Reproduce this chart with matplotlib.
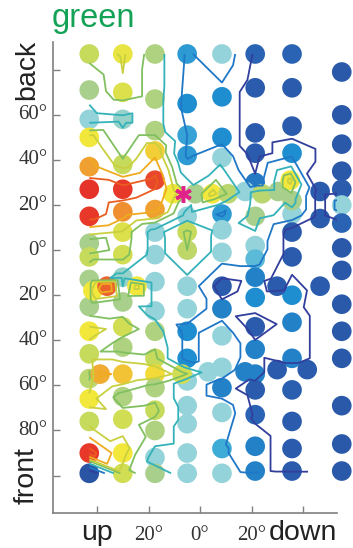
import numpy as np
import matplotlib
matplotlib.use("Agg")
import matplotlib.pyplot as plt
from matplotlib.colors import LinearSegmentedColormap

# dot columns: azimuth (deg), elevations (deg) and response value (0..1)
col_az = [-43, -30, -17.5, -5, 8.5, 21.4, 35.7, 46.6, 55]
col_el = [
    [87, 71, 58, 50, 37, 27, 15, 3, -3, -13, -25, -36, -46, -57, -66, -76, -90, -99],
    [87, 70, 58, 38, 27, 17, 8, -2, -12, -23, -34, -43, -55, -65, -75, -90, -99],
    [87, 67, 53, 44, 31, 18, 8, -2, -14, -27, -36, -48, -55, -61, -71, -80, -92, -99],
    [87, 65, 51, 42, 15, 8, 0, -16, -26, -36, -48, -58, -69, -77, -90, -99],
    [87, 68, 50, 41, 16, 9, -1, -16, -26, -38, -52, -61, -72, -88, -99],
    [87, 72, 52, 43, 30, 15, 2, -4, -12, -21, -34, -44, -55, -62, -73, -87, -98],
    [87, 72, 55, 43, 16, 8, -3, -20, -32, -48, -62, -76, -88, -98],
    [26, 14, -16],
    [79, 60, 47, 35, 27, 20, 12, 1, -9, -24, -36, -48, -69, -86, -98],
]
col_val = [
    [0.58, 0.5, 0.4, 0.66, 0.78, 0.92, 0.9, 0.5, 0.58, 0.5, 0.5, 0.66, 0.58, 0.55, 0.66, 0.58, 0.9, 0.04],
    [0.64, 0.62, 0.42, 0.58, 0.9, 0.8, 0.62, 0.6, 0.42, 0.5, 0.6, 0.52, 0.72, 0.52, 0.6, 0.66, 0.6],
    [0.52, 0.52, 0.52, 0.7, 0.88, 0.78, 0.4, 0.4, 0.4, 0.4, 0.52, 0.58, 0.68, 0.52, 0.58, 0.52, 0.4, 0.5],
    [0.28, 0.25, 0.3, 0.28, 0.4, 0.58, 0.56, 0.4, 0.4, 0.25, 0.25, 0.4, 0.4, 0.4, 0.4, 0.4],
    [0.4, 0.25, 0.25, 0.4, 0.28, 0.4, 0.4, 0.1, 0.22, 0.4, 0.4, 0.22, 0.4, 0.32, 0.4],
    [0.15, 0.1, 0.1, 0.1, 0.2, 0.5, 0.4, 0.35, 0.22, 0.25, 0.1, 0.22, 0.22, 0.1, 0.15, 0.22, 0.22],
    [0.15, 0.1, 0.1, 0.25, 0.4, 0.1, 0.1, 0.25, 0.22, 0.22, 0.12, 0.1, 0.1, 0.1],
    [0.1, 0.1, 0.1],
    [0.08, 0.08, 0.08, 0.08, 0.1, 0.4, 0.15, 0.08, 0.08, 0.08, 0.08, 0.08, 0.08, 0.08, 0.08],
]

# extra stimulus positions (dense row at ~25 deg and off-grid dots)
extra_az = [-10.5, -1.9, 4.7, 10.9, 17.5, 24.1, 30.3, 35, 35.7,
            -41.6, -36.1, -24.5, -38.8, -7, 3.1, 17.5, 29.9, 29.9, 41.6]
extra_el = [25, 25, 25, 25, 26, 25, 26, 31, 22,
            -18, -16, -16, -55, -55, -54, -54, -16, -53, -53]
extra_val = [0.66, 0.5, 0.66, 0.55, 0.4, 0.55, 0.5, 0.66, 0.5,
             0.66, 0.85, 0.66, 0.76, 0.6, 0.4, 0.22, 0.1, 0.1, 0.1]

best_az, best_el = -6.6, 24.8

xticks = [-40, -20, 0, 20, 40]
xlabels = ['up', '20°', '0°', '20°', 'down']
yticks = [80, 60, 40, 20, 0, -20, -40, -60, -80, -100]
ylabels = ['back', '60°', '40°', '20°', '0°', '20°', '40°', '60°', '80°', 'front']
levels = [0.17, 0.3, 0.45, 0.56, 0.63, 0.74, 0.85]

az, el, val = [], [], []
for a, els, vs in zip(col_az, col_el, col_val):
    az += [a] * len(els)
    el += els
    val += vs
az = np.array(az + extra_az, float)
el = np.array(el + extra_el, float)
val = np.array(val + extra_val, float)

dot_cmap = LinearSegmentedColormap.from_list('dots', [
    (0.0, '#2a4f9e'), (0.15, '#2a62b4'), (0.25, '#1f8ed0'), (0.33, '#45b0d8'),
    (0.4, '#93d3d9'), (0.5, '#a7cf8d'), (0.58, '#c6da5c'), (0.66, '#f3e73a'),
    (0.78, '#f0a030'), (0.9, '#e8382a'), (1.0, '#d82028')])
line_cmap = LinearSegmentedColormap.from_list('lines', [
    (0.0, '#2b2f8f'), (0.2, '#33419f'), (0.3, '#1f78c8'), (0.4, '#20a8c8'),
    (0.48, '#40b8b0'), (0.56, '#80c060'), (0.63, '#c8d040'), (0.72, '#f0c020'),
    (0.8, '#ee7020'), (1.0, '#e02020')])

fig = plt.figure(figsize=(3.53, 5.48), dpi=100)
ax = fig.add_axes([0.150, 0.0639, 0.805, 0.859])

ax.scatter(az, el, c=val, cmap=dot_cmap, vmin=0, vmax=1, s=200,
           linewidths=0, zorder=1, clip_on=False)
ax.tricontour(az, el, val, levels=levels, cmap=line_cmap, vmin=0, vmax=1,
              linewidths=1.3, zorder=2)
ax.plot(best_az, best_el, marker=(6, 2, 0), color='#e0228a', markersize=12,
        markeredgewidth=2.5, zorder=3, linestyle='none')

ax.set_xlim(-57.1, 53.2)
ax.set_ylim(-116.6, 92.2)
for s in ['top', 'right']:
    ax.spines[s].set_visible(False)
for s in ['left', 'bottom']:
    ax.spines[s].set_color('#808080')
    ax.spines[s].set_linewidth(1.2)
ax.set_xticks(xticks, labels=[''] * len(xticks))
ax.set_yticks(yticks, labels=[''] * len(yticks))
ax.tick_params(direction='in', length=5, width=1, color='#808080')

sans = 'Liberation Sans'
serif = 'Liberation Serif'
xt = ax.get_xaxis_transform()
for x, lab in zip(xticks, xlabels):
    if '°' in lab:
        ax.text(x, -0.057, lab, transform=xt, ha='center', va='baseline',
                family=serif, fontsize=15, color='#333333')
    else:
        ax.text(x, -0.057, lab, transform=xt, ha='center', va='baseline',
                family=sans, fontsize=20.5, color='#222222')
yt = ax.get_yaxis_transform()
for y, lab in zip(yticks, ylabels):
    if '°' in lab:
        ax.text(-0.02, y, lab, transform=yt, ha='right', va='center',
                family=serif, fontsize=15, color='#333333')
    else:
        ax.text(-0.092, y, lab, transform=yt, ha='center', va='center',
                rotation=90, family=sans, fontsize=20.5, color='#222222')

fig.text(0.147, 0.951, 'green', ha='left', va='baseline', family=sans,
         fontsize=23.5, color='#14a257')

fig.savefig('out.png', dpi=100)
